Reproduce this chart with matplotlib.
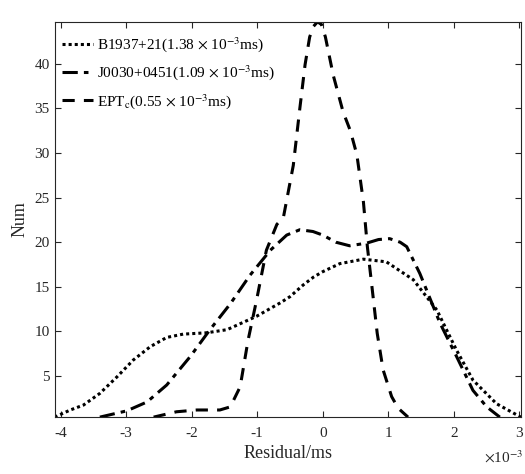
import matplotlib
matplotlib.use("Agg")
import matplotlib.pyplot as plt

plt.rcParams['font.family'] = ['Liberation Serif', 'DejaVu Serif']
plt.rcParams['mathtext.fontset'] = 'stix'

# Residual values in units of 1e-3 ms
b1937_x = [-4.09, -3.85, -3.65, -3.40, -3.14, -2.89, -2.63, -2.38, -2.13, -1.77,
           -1.46, -1.01, -0.65, -0.50, -0.30, -0.14, 0.0, 0.26, 0.62, 0.97,
           1.38, 1.74, 2.04, 2.29, 2.65, 3.02]
b1937_y = [0.4, 1.2, 1.75, 3.06, 4.9, 6.8, 8.3, 9.33, 9.7, 9.85,
           10.2, 11.7, 13.2, 13.9, 15.2, 16.1, 16.7, 17.6, 18.1, 17.8,
           15.8, 12.4, 7.9, 4.55, 1.9, 0.4]

j0030_x = [-3.40, -2.99, -2.68, -2.38, -2.02, -1.72, -1.41, -1.11, -0.80, -0.55,
           -0.35, -0.15, 0.0, 0.20, 0.41, 0.67, 0.85, 1.02, 1.18, 1.28,
           1.48, 1.79, 2.04, 2.29, 2.50, 2.70]
j0030_y = [0.4, 1.1, 2.1, 4.0, 7.2, 10.2, 13.1, 16.3, 19.1, 20.8,
           21.4, 21.2, 20.8, 20.0, 19.6, 19.9, 20.3, 20.4, 20.0, 19.5,
           16.5, 10.9, 7.2, 3.4, 1.55, 0.4]

ept_x = [-2.58, -2.23, -1.92, -1.57, -1.41, -1.26, -1.14, -1.01, -0.86, -0.70,
         -0.60, -0.45, -0.35, -0.27, -0.20, -0.14, -0.08, -0.02, 0.04, 0.16,
         0.31, 0.42, 0.52, 0.62, 0.68, 0.75, 0.83, 0.92, 1.05, 1.15, 1.30]
ept_y = [0.4, 1.0, 1.2, 1.2, 1.55, 3.8, 9.0, 13.5, 19.1, 22.0,
         22.8, 28.6, 35.0, 39.9, 43.0, 44.2, 44.7, 44.4, 43.0, 38.7,
         34.6, 32.5, 29.8, 24.5, 19.5, 15.0, 9.8, 5.7, 2.7, 1.4, 0.4]

labels = [r'B1937+21(1.38 $\times$ 10$^{\mathrm{-3}}$ms)',
          r'J0030+0451(1.09 $\times$ 10$^{\mathrm{-3}}$ms)',
          r'EPT$_{\mathrm{c}}$(0.55 $\times$ 10$^{\mathrm{-3}}$ms)']

xticks = [-4, -3, -2, -1, 0, 1, 2, 3]
yticks = [5, 10, 15, 20, 25, 30, 35, 40]

fig = plt.figure(figsize=(5.25, 4.74), dpi=100)
ax = fig.add_axes([0.104, 0.120, 0.888, 0.834])

ax.plot(b1937_x, b1937_y, color='black', linestyle=(0, (1, 1)), linewidth=2.2, label=labels[0])
ax.plot(j0030_x, j0030_y, color='black', linestyle=(0, (5, 2, 1.5, 2)), linewidth=2.2, label=labels[1])
ax.plot(ept_x, ept_y, color='black', linestyle=(0, (4, 3)), linewidth=2.2, label=labels[2])

ax.set_xlim(-4.09, 3.02)
ax.set_ylim(0.4, 44.7)
ax.set_xticks(xticks)
ax.set_xticklabels([str(t) for t in xticks])
ax.set_yticks(yticks)
ax.tick_params(direction='in', top=True, right=True, labelsize=11, length=4,
               width=0.8, colors='#262626', labelcolor='#262626')
for s in ax.spines.values():
    s.set_linewidth(0.8)
    s.set_color('#262626')
ax.tick_params(axis='x', pad=7)

ax.set_xlabel('Residual/ms', fontsize=13, color='#262626', labelpad=4)
ax.set_ylabel('Num', fontsize=13, color='#262626', labelpad=4)
fig.text(0.997, 0.018, r'$\times$10$^{\mathrm{-3}}$', fontsize=11, color='#262626',
         ha='right', va='bottom')

leg = ax.legend(loc='upper left', bbox_to_anchor=(0.0, 0.985), frameon=False,
                fontsize=11, handlelength=2.0, handletextpad=0.3,
                borderaxespad=0.1, borderpad=0.4, labelspacing=0.6)

fig.savefig('out.png', dpi=100)
